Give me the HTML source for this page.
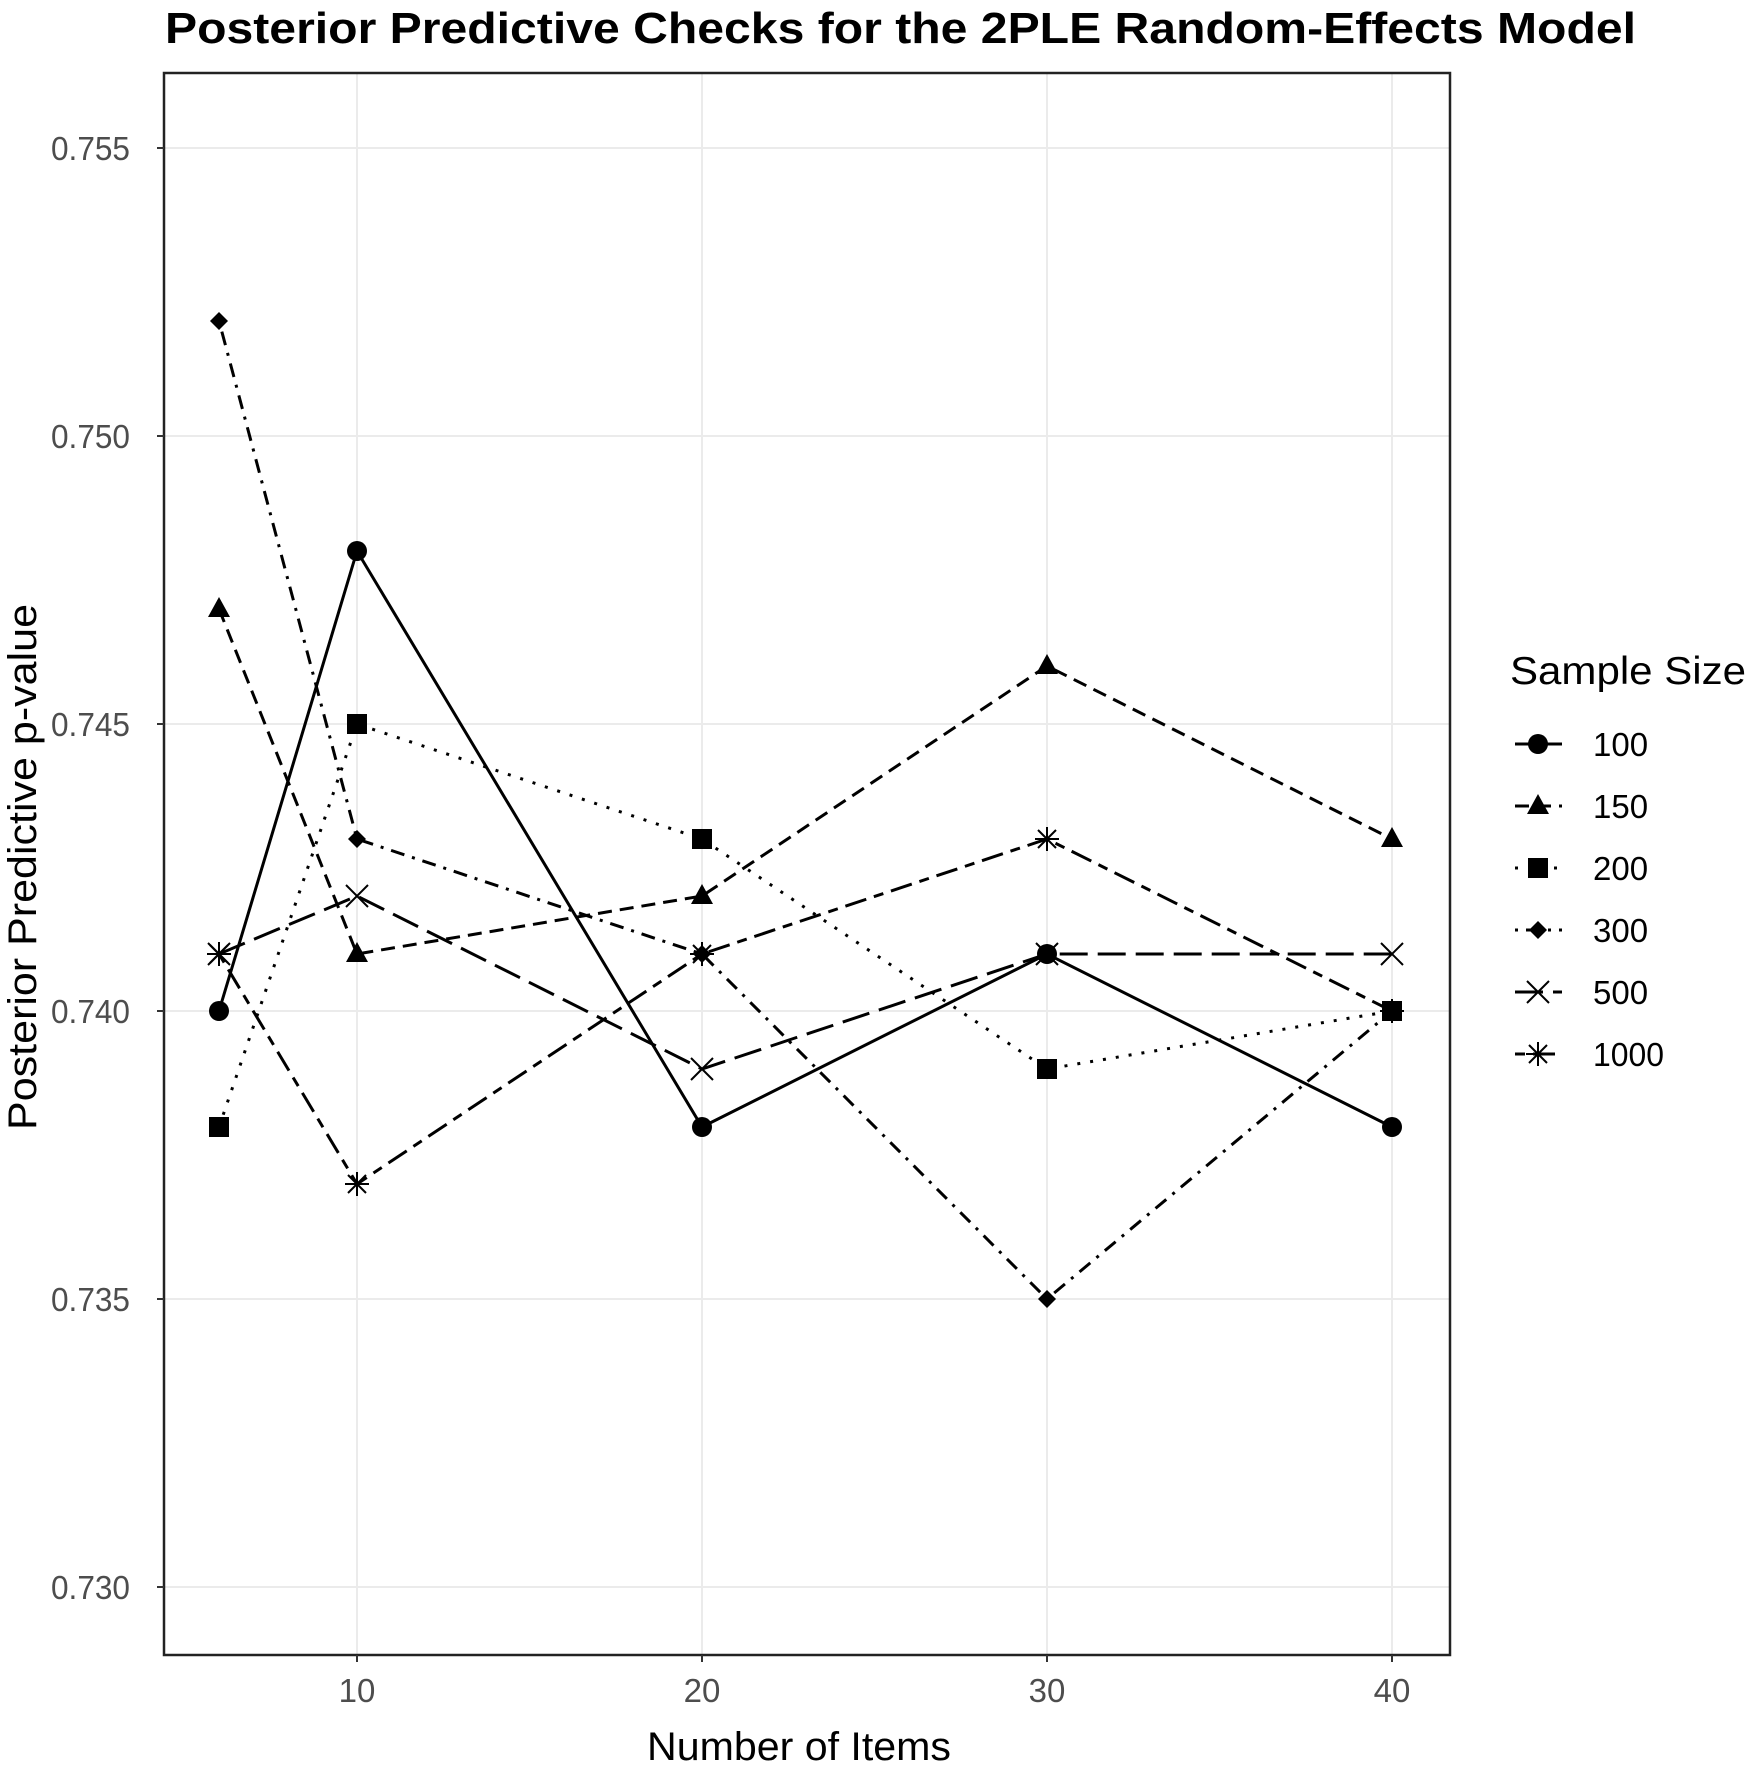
<!DOCTYPE html>
<html><head><meta charset="utf-8"><style>
html,body{margin:0;padding:0;background:#fff;}
svg{display:block;}
text{font-family:"Liberation Sans",Arial,sans-serif;}
</style></head><body>
<svg width="1751" height="1772" viewBox="0 0 1751 1772" xmlns="http://www.w3.org/2000/svg">
<defs>
<g id="circ"><circle r="10" fill="#000"/></g>
<g id="tri"><polygon points="0,-12 11,8 -11,8" fill="#000"/></g>
<g id="sq"><rect x="-10" y="-10" width="20" height="20" fill="#000"/></g>
<g id="dia"><polygon points="0,-9 9,0 0,9 -9,0" fill="#000"/></g>
<g id="xx"><path d="M-11,-11L11,11M11,-11L-11,11" stroke="#000" stroke-width="2" fill="none"/></g>
<g id="ast"><path d="M-12,0H12M0,-12V12M-9,-9L9,9M9,-9L-9,9" stroke="#000" stroke-width="2" fill="none"/></g>
</defs>
<text x="165" y="43" font-size="44" font-weight="bold" fill="#000" textLength="1471" lengthAdjust="spacingAndGlyphs">Posterior Predictive Checks for the 2PLE Random-Effects Model</text>
<rect x="164" y="73" width="1286" height="1582" fill="#fff"/>
<g stroke="#ebebeb" stroke-width="2">
<line x1="357" y1="73" x2="357" y2="1655"/><line x1="702" y1="73" x2="702" y2="1655"/>
<line x1="1047" y1="73" x2="1047" y2="1655"/><line x1="1392" y1="73" x2="1392" y2="1655"/>
<line x1="164" y1="148" x2="1450" y2="148"/><line x1="164" y1="436" x2="1450" y2="436"/>
<line x1="164" y1="724" x2="1450" y2="724"/><line x1="164" y1="1011" x2="1450" y2="1011"/>
<line x1="164" y1="1299" x2="1450" y2="1299"/><line x1="164" y1="1587" x2="1450" y2="1587"/>
</g>
<g fill="none" stroke="#000" stroke-width="3">
<polyline points="219,1011 357,551 702,1127 1047,954 1392,1127"/>
<polyline stroke-dasharray="14,8" points="219,609 357,954 702,896 1047,666 1392,839"/>
<polyline stroke-dasharray="3,10" points="219,1127 357,724 702,839 1047,1069 1392,1011"/>
<polyline stroke-dasharray="3,8,14,8" points="219,321 357,839 702,954 1047,1299 1392,1011"/>
<polyline stroke-dasharray="28,10" points="219,954 357,896 702,1069 1047,954 1392,954"/>
<polyline stroke-dasharray="10,8,22,8" points="219,954 357,1184 702,954 1047,839 1392,1011"/>
</g>
<use href="#circ" x="219" y="1011"/><use href="#circ" x="357" y="551"/><use href="#circ" x="702" y="1127"/><use href="#circ" x="1047" y="954"/><use href="#circ" x="1392" y="1127"/>
<use href="#tri" x="219" y="609"/><use href="#tri" x="357" y="954"/><use href="#tri" x="702" y="896"/><use href="#tri" x="1047" y="666"/><use href="#tri" x="1392" y="839"/>
<use href="#sq" x="219" y="1127"/><use href="#sq" x="357" y="724"/><use href="#sq" x="702" y="839"/><use href="#sq" x="1047" y="1069"/><use href="#sq" x="1392" y="1011"/>
<use href="#dia" x="219" y="321"/><use href="#dia" x="357" y="839"/><use href="#dia" x="702" y="954"/><use href="#dia" x="1047" y="1299"/><use href="#dia" x="1392" y="1011"/>
<use href="#xx" x="219" y="954"/><use href="#xx" x="357" y="896"/><use href="#xx" x="702" y="1069"/><use href="#xx" x="1047" y="954"/><use href="#xx" x="1392" y="954"/>
<use href="#ast" x="219" y="954"/><use href="#ast" x="357" y="1184"/><use href="#ast" x="702" y="954"/><use href="#ast" x="1047" y="839"/><use href="#ast" x="1392" y="1011"/>
<rect x="164" y="73" width="1286" height="1582" fill="none" stroke="#222" stroke-width="2.5"/>
<g stroke="#333" stroke-width="2">
<line x1="157" y1="148" x2="164" y2="148"/><line x1="157" y1="436" x2="164" y2="436"/><line x1="157" y1="724" x2="164" y2="724"/>
<line x1="157" y1="1011" x2="164" y2="1011"/><line x1="157" y1="1299" x2="164" y2="1299"/><line x1="157" y1="1587" x2="164" y2="1587"/>
<line x1="357" y1="1655" x2="357" y2="1662"/><line x1="702" y1="1655" x2="702" y2="1662"/><line x1="1047" y1="1655" x2="1047" y2="1662"/><line x1="1392" y1="1655" x2="1392" y2="1662"/>
</g>
<g font-size="33" fill="#4d4d4d">
<text x="51" y="160" textLength="79" lengthAdjust="spacingAndGlyphs">0.755</text>
<text x="51" y="448" textLength="79" lengthAdjust="spacingAndGlyphs">0.750</text>
<text x="51" y="736" textLength="79" lengthAdjust="spacingAndGlyphs">0.745</text>
<text x="51" y="1023" textLength="79" lengthAdjust="spacingAndGlyphs">0.740</text>
<text x="51" y="1311" textLength="79" lengthAdjust="spacingAndGlyphs">0.735</text>
<text x="51" y="1599" textLength="79" lengthAdjust="spacingAndGlyphs">0.730</text>
</g>
<g font-size="33" fill="#4d4d4d" text-anchor="middle">
<text x="357" y="1702">10</text><text x="702" y="1702">20</text><text x="1047" y="1702">30</text><text x="1392" y="1702">40</text>
</g>
<text x="647" y="1760" font-size="40" fill="#000" textLength="304" lengthAdjust="spacingAndGlyphs">Number of Items</text>
<text transform="translate(36,1130) rotate(-90)" font-size="40" fill="#000" textLength="526" lengthAdjust="spacingAndGlyphs">Posterior Predictive p-value</text>
<text x="1510" y="684" font-size="39" fill="#000" textLength="236" lengthAdjust="spacingAndGlyphs">Sample Size</text>
<g fill="none" stroke="#000" stroke-width="3">
<line x1="1515" y1="744" x2="1562" y2="744"/>
<line x1="1515" y1="806" x2="1562" y2="806" stroke-dasharray="14,8"/>
<line x1="1515" y1="868" x2="1562" y2="868" stroke-dasharray="3,10"/>
<line x1="1515" y1="930" x2="1562" y2="930" stroke-dasharray="3,8,14,8"/>
<line x1="1515" y1="992" x2="1562" y2="992" stroke-dasharray="28,10"/>
<line x1="1515" y1="1054" x2="1562" y2="1054" stroke-dasharray="10,8,22,8"/>
</g>
<use href="#circ" x="1538" y="744"/><use href="#tri" x="1538" y="806"/><use href="#sq" x="1538" y="868"/>
<use href="#dia" x="1538" y="930"/><use href="#xx" x="1538" y="992"/><use href="#ast" x="1538" y="1054"/>
<g font-size="33" fill="#000">
<text x="1593" y="756">100</text><text x="1593" y="818">150</text><text x="1593" y="880">200</text>
<text x="1593" y="942">300</text><text x="1593" y="1004">500</text><text x="1593" y="1066" textLength="71" lengthAdjust="spacingAndGlyphs">1000</text>
</g>
</svg>
</body></html>
